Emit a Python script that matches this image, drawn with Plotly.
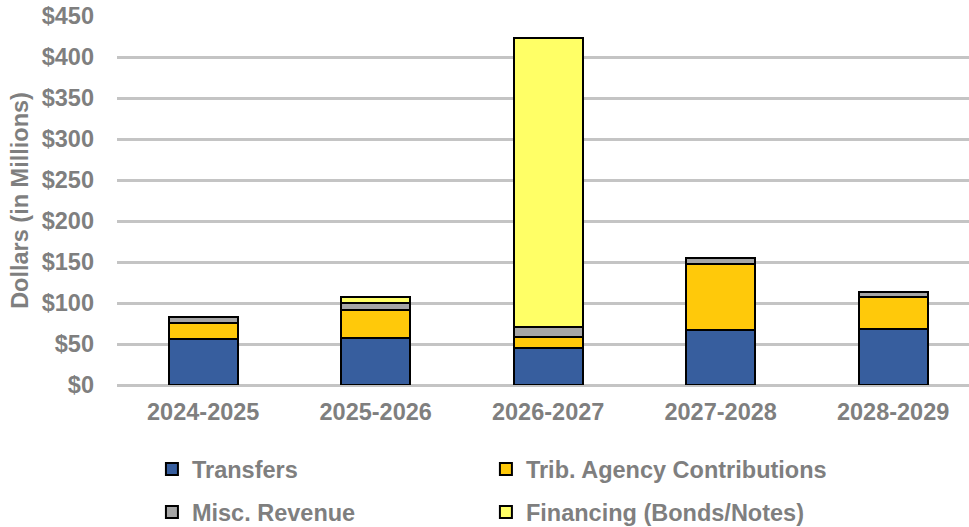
import plotly.graph_objects as go

categories = ["2024-2025", "2025-2026", "2026-2027", "2027-2028", "2028-2029"]
transfers = [56, 57, 45.5, 67, 68.3]
trib_agency = [19.5, 34.5, 13.4, 80, 39.4]
misc_revenue = [7.7, 8.2, 12.2, 8, 6]
financing = [0, 7.3, 351.7, 0, 0]

series_names = ["Transfers", "Trib. Agency Contributions", "Misc. Revenue", "Financing (Bonds/Notes)"]
series_values = [transfers, trib_agency, misc_revenue, financing]
series_colors = ["#375E9E", "#FFC90A", "#A6A6A6", "#FFFF66"]
series_legend = ["legend", "legend2", "legend3", "legend4"]

y_ticks = [0, 50, 100, 150, 200, 250, 300, 350, 400, 450]
y_tick_labels = ["$" + str(v) for v in y_ticks]

FONT = "Liberation Sans, Arial, sans-serif"
GREY = "#7F7F7F"
FS = 23.5

fig = go.Figure()
for name, vals, col, lg in zip(series_names, series_values, series_colors, series_legend):
    fig.add_trace(go.Bar(
        x=categories, y=vals, name=name, legend=lg,
        marker=dict(color=col, line=dict(color="#000000", width=2)),
    ))

legend_common = dict(
    orientation="h", xanchor="left", yanchor="middle",
    font=dict(family=FONT, size=FS, color=GREY, weight="bold"),
    bgcolor="rgba(0,0,0,0)",
)
col1, col2 = 0.041, 0.433
row1, row2 = -0.228, -0.345

fig.update_layout(
    width=969, height=527,
    barmode="stack", bargap=0.6,
    plot_bgcolor="white", paper_bgcolor="white",
    margin=dict(l=117, r=0, t=16, b=142, autoexpand=False),
    font=dict(family=FONT, size=FS, color=GREY),
    legend=dict(legend_common, x=col1, y=row1),
    legend2=dict(legend_common, x=col2, y=row1),
    legend3=dict(legend_common, x=col1, y=row2),
    legend4=dict(legend_common, x=col2, y=row2),
    showlegend=True,
)
fig.update_xaxes(
    range=[-0.5, 4.44], showgrid=False, showline=False, ticks="",
    tickfont=dict(family=FONT, size=FS, color=GREY, weight="bold"),
    ticklabelstandoff=10,
)
fig.update_yaxes(
    range=[0, 450], tickvals=y_ticks, ticktext=y_tick_labels,
    showgrid=True, gridcolor="#C4C4C4", gridwidth=2.5,
    zeroline=True, zerolinecolor="#C4C4C4", zerolinewidth=2.5,
    showline=False, ticks="",
    tickfont=dict(family=FONT, size=FS, color=GREY, weight="bold"),
    ticklabelstandoff=22,
    title=dict(text="Dollars (in Millions)", standoff=6,
               font=dict(family=FONT, size=FS, color=GREY, weight="bold")),
)

fig.write_html("out.html")
